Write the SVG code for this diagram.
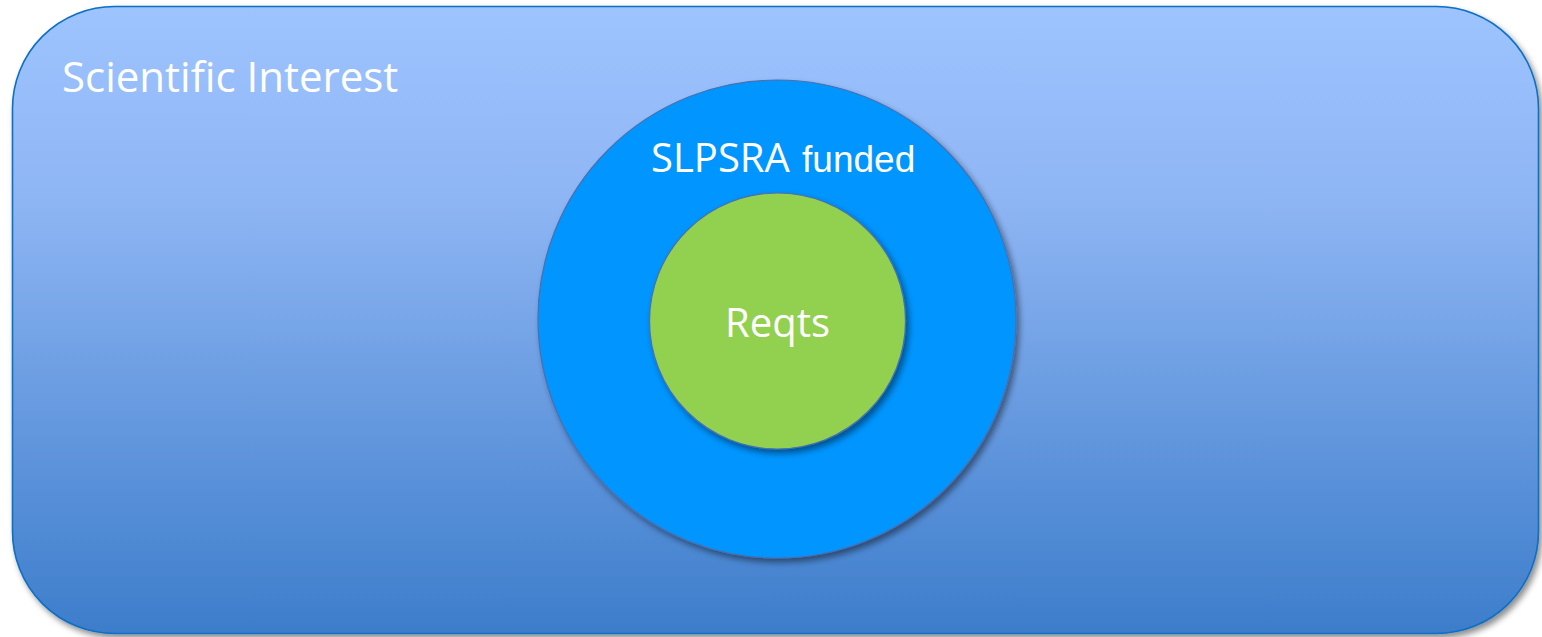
<svg xmlns="http://www.w3.org/2000/svg" width="1542" height="637" viewBox="0 0 1542 637">
  <style>
    .label { fill: #ffffff; font-family: "Open Sans", "Liberation Sans", sans-serif; }
    .ring { stroke: #4a6fae; stroke-width: 1.2; }
  </style>
  <defs>
    <linearGradient id="bgGrad" x1="0" y1="0" x2="0" y2="1">
      <stop offset="0" stop-color="#9ec4ff"/>
      <stop offset="0.3" stop-color="#8fb6f4"/>
      <stop offset="1" stop-color="#3d7dcb"/>
    </linearGradient>
    <filter id="shadow" x="-10%" y="-10%" width="125%" height="125%">
      <feGaussianBlur in="SourceAlpha" stdDeviation="3"/>
      <feOffset dx="3" dy="4" result="b"/>
      <feComponentTransfer><feFuncA type="linear" slope="0.45"/></feComponentTransfer>
      <feMerge><feMergeNode/><feMergeNode in="SourceGraphic"/></feMerge>
    </filter>
  </defs>
  <rect width="1542" height="637" fill="#ffffff"/>

  <g id="scientific-interest">
    <rect x="12.5" y="6.5" width="1526" height="627" rx="102" ry="102" fill="url(#bgGrad)" stroke="#0a6fc2" stroke-width="1.6" filter="url(#shadow)"/>
    <text class="label" x="62" y="92" font-size="42">Scientific Interest</text>
  </g>

  <g id="slpsra-funded">
    <circle class="ring" cx="777" cy="319" r="239" fill="#0095ff" filter="url(#shadow)"/>
    <text class="label" x="651" y="172"><tspan font-size="40">SLPSRA</tspan><tspan font-family="Liberation Sans, Arial, sans-serif" font-size="37" dx="2"> funded</tspan></text>
  </g>

  <g id="reqts">
    <circle class="ring" cx="777.5" cy="321" r="128" fill="#92d050" filter="url(#shadow)"/>
    <text class="label" x="777.5" y="337" font-size="40" text-anchor="middle">Reqts</text>
  </g>

  <g id="connectors"/>
</svg>
